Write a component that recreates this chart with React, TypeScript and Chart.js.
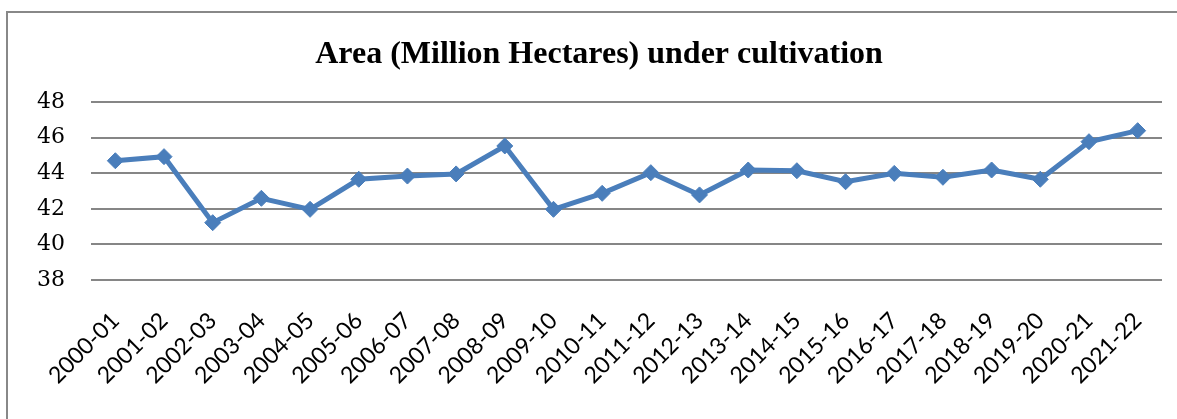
import React, { useEffect, useRef } from "react";
import { Chart, registerables } from "chart.js";

Chart.register(...registerables);

const categories: string[] = [
  "2000-01", "2001-02", "2002-03", "2003-04", "2004-05", "2005-06",
  "2006-07", "2007-08", "2008-09", "2009-10", "2010-11", "2011-12",
  "2012-13", "2013-14", "2014-15", "2015-16", "2016-17", "2017-18",
  "2018-19", "2019-20", "2020-21", "2021-22",
];

const areaValues: number[] = [
  44.70, 44.93, 41.22, 42.59, 41.97, 43.66,
  43.84, 43.96, 45.53, 41.97, 42.87, 44.03,
  42.78, 44.18, 44.14, 43.52, 43.99, 43.77,
  44.18, 43.66, 45.77, 46.39,
];

const yMin = 38;
const yMax = 48;
const yStep = 2;

const chartTitle = "Area (Million Hectares) under cultivation";

export default function App() {
  const canvasRef = useRef<HTMLCanvasElement | null>(null);

  useEffect(() => {
    const canvas = canvasRef.current;
    if (!canvas) return;
    const chart = new Chart(canvas, {
      type: "line",
      data: {
        labels: categories,
        datasets: [
          {
            label: "Area",
            data: areaValues,
            borderColor: "#4A7EBB",
            backgroundColor: "#4A7EBB",
            borderWidth: 5,
            pointStyle: "rectRot",
            pointRadius: 8,
            pointBorderWidth: 1,
            pointBackgroundColor: "#4A7EBB",
            pointBorderColor: "#4A7EBB",
            tension: 0,
          },
        ],
      },
      options: {
        animation: false,
        responsive: false,
        devicePixelRatio: 1,
        layout: { padding: { left: 36, right: 15, top: 0, bottom: 0 } },
        plugins: {
          legend: { display: false },
          tooltip: { enabled: false },
          title: {
            display: true,
            text: chartTitle,
            color: "#000000",
            font: { family: "'Liberation Serif', 'Times New Roman', serif", size: 32, weight: "bold" },
            padding: { top: 36, bottom: 27.6 },
          },
        },
        scales: {
          x: {
            offset: true,
            grid: { display: false, drawTicks: false },
            border: { display: false },
            ticks: {
              autoSkip: false,
              minRotation: 45,
              maxRotation: 45,
              padding: 27,
              color: "#000000",
              font: { family: "Lato, 'Open Sans', sans-serif", size: 23 },
            },
            afterFit: (scale: any) => {
              scale.height = 139;
              scale.paddingLeft = 0;
              scale.paddingRight = 0;
            },
          },
          y: {
            min: yMin,
            max: yMax,
            grid: { color: "#868686", lineWidth: 2, drawTicks: false },
            border: { display: false },
            ticks: {
              stepSize: yStep,
              padding: 26,
              color: "#000000",
              font: { family: "'DejaVu Serif', serif", size: 22 },
            },
            afterFit: (scale: any) => {
              scale.width = 55;
              scale.paddingTop = 0;
              scale.paddingBottom = 0;
            },
          },
        },
      },
    });
    return () => chart.destroy();
  }, []);

  return (
    <div style={{ position: "fixed", left: 0, top: 0, width: 1177, height: 419, overflow: "hidden", background: "#ffffff" }}>
      <div
        style={{
          position: "absolute",
          left: 6,
          top: 11,
          width: 1300,
          height: 600,
          borderLeft: "2px solid #888888",
          borderTop: "2px solid #888888",
          pointerEvents: "none",
        }}
      />
      <canvas ref={canvasRef} width={1177} height={419} style={{ position: "absolute", left: 0, top: 0, display: "block" }} />
    </div>
  );
}
